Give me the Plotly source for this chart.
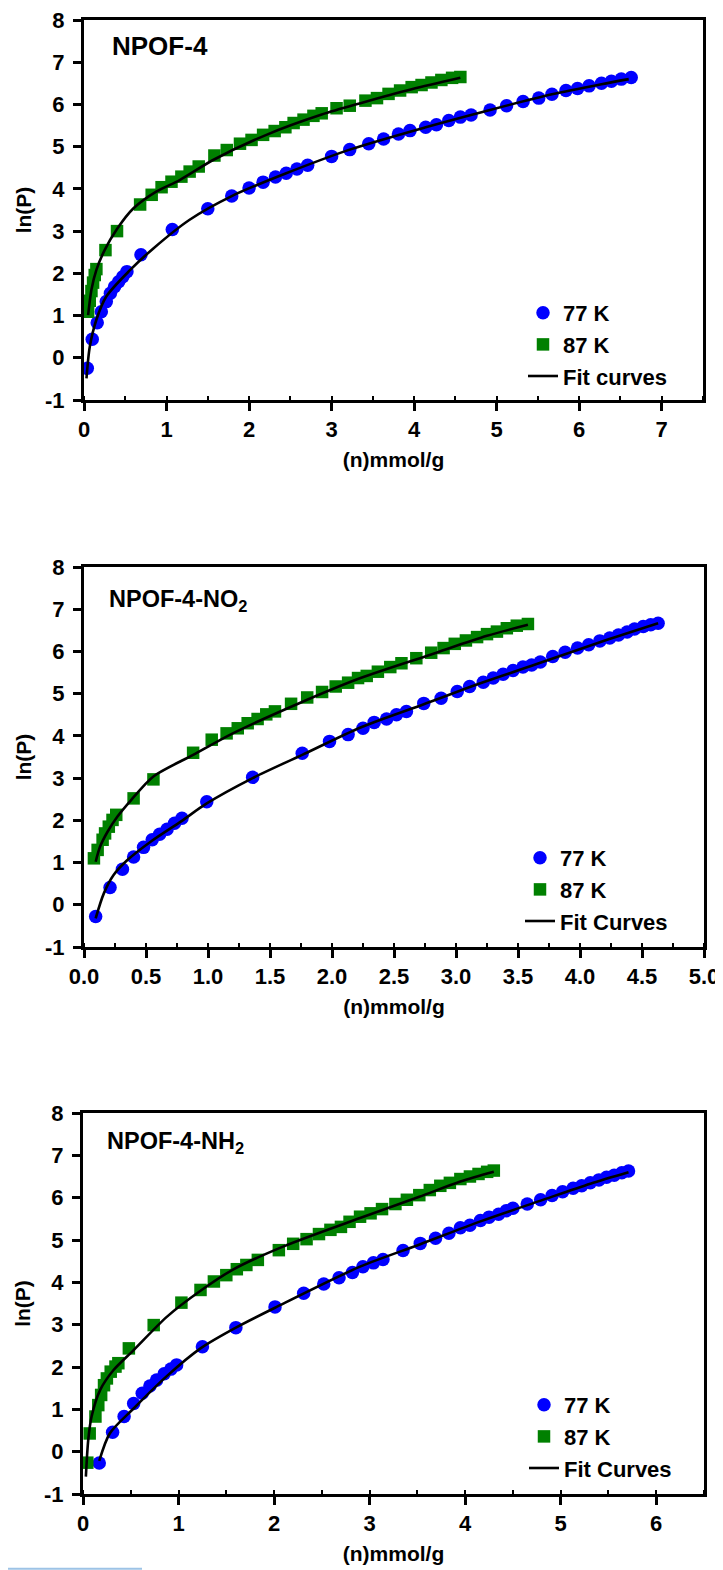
import plotly.graph_objects as go

# ---------------- data ----------------
# Panel 1: NPOF-4
n1_77 = [0.04, 0.10, 0.16, 0.21, 0.27, 0.32, 0.37, 0.42, 0.47, 0.52, 0.69, 1.07, 1.50, 1.79, 2.00, 2.17, 2.32, 2.45,
         2.58, 2.71, 3.00, 3.22, 3.45, 3.63, 3.81, 3.95, 4.14, 4.27, 4.42, 4.56, 4.69, 4.92, 5.12, 5.32, 5.51, 5.67,
         5.84, 5.98, 6.12, 6.27, 6.39, 6.51, 6.63]
p1_77 = [-0.25, 0.44, 0.83, 1.09, 1.33, 1.53, 1.68, 1.80, 1.92, 2.04, 2.44, 3.04, 3.53, 3.83, 4.02, 4.16, 4.28, 4.37,
         4.47, 4.56, 4.77, 4.93, 5.07, 5.18, 5.30, 5.38, 5.46, 5.52, 5.62, 5.70, 5.75, 5.87, 5.97, 6.07, 6.15, 6.24,
         6.33, 6.38, 6.44, 6.50, 6.55, 6.60, 6.64]
n1_87 = [0.05, 0.07, 0.09, 0.11, 0.13, 0.15, 0.26, 0.40, 0.68, 0.82, 0.94, 1.06, 1.18, 1.28, 1.39, 1.58, 1.73, 1.89,
         2.03, 2.17, 2.31, 2.44, 2.54, 2.66, 2.78, 2.88, 3.06, 3.22, 3.41, 3.55, 3.69, 3.83, 3.97, 4.09, 4.21, 4.33,
         4.46, 4.56]
p1_87 = [1.09, 1.35, 1.58, 1.78, 1.96, 2.10, 2.55, 3.00, 3.63, 3.86, 4.04, 4.17, 4.29, 4.41, 4.53, 4.79, 4.92, 5.07,
         5.16, 5.28, 5.37, 5.46, 5.56, 5.64, 5.73, 5.79, 5.91, 5.97, 6.09, 6.15, 6.25, 6.33, 6.41, 6.46, 6.52, 6.58,
         6.63, 6.65]
fit1_77_n = [0.03, 0.07, 0.15, 0.27, 0.56, 0.84, 1.28, 1.79, 2.45, 3.22, 4.14, 4.92, 5.67, 6.27, 6.60]
fit1_77_p = [-0.49, 0.26, 0.90, 1.45, 2.08, 2.59, 3.27, 3.83, 4.37, 4.93, 5.46, 5.87, 6.24, 6.48, 6.60]
fit1_87_n = [0.05, 0.09, 0.15, 0.25, 0.40, 0.60, 0.88, 1.16, 1.57, 2.21, 2.88, 3.35, 3.97, 4.56]
fit1_87_p = [1.01, 1.61, 2.08, 2.55, 3.05, 3.54, 3.94, 4.21, 4.69, 5.28, 5.76, 6.03, 6.36, 6.63]

# Panel 2: NPOF-4-NO2
n2_77 = [0.094, 0.21, 0.31, 0.40, 0.48, 0.55, 0.61, 0.67, 0.73, 0.79, 0.99, 1.36, 1.76, 1.98, 2.13, 2.25, 2.34, 2.44,
         2.52, 2.60, 2.74, 2.88, 3.01, 3.11, 3.22, 3.30, 3.38, 3.46, 3.54, 3.61, 3.68, 3.78, 3.88, 3.98, 4.07, 4.16,
         4.24, 4.31, 4.38, 4.44, 4.51, 4.57, 4.63]
p2_77 = [-0.28, 0.41, 0.84, 1.13, 1.36, 1.54, 1.67, 1.79, 1.93, 2.05, 2.44, 3.02, 3.59, 3.87, 4.03, 4.18, 4.32, 4.40,
         4.50, 4.58, 4.77, 4.89, 5.05, 5.17, 5.27, 5.37, 5.46, 5.55, 5.63, 5.68, 5.75, 5.88, 5.98, 6.08, 6.16, 6.25,
         6.32, 6.39, 6.46, 6.53, 6.59, 6.63, 6.67]
n2_87 = [0.08, 0.11, 0.15, 0.17, 0.20, 0.23, 0.26, 0.40, 0.56, 0.88, 1.03, 1.15, 1.24, 1.32, 1.40, 1.47, 1.54, 1.67,
         1.80, 1.92, 2.03, 2.13, 2.21, 2.28, 2.37, 2.47, 2.56, 2.68, 2.80, 2.90, 2.99, 3.08, 3.17, 3.25, 3.33, 3.41,
         3.49, 3.58]
p2_87 = [1.10, 1.30, 1.54, 1.69, 1.85, 2.01, 2.13, 2.52, 2.97, 3.60, 3.91, 4.06, 4.18, 4.30, 4.40, 4.51, 4.58, 4.76,
         4.91, 5.04, 5.17, 5.26, 5.37, 5.42, 5.52, 5.63, 5.72, 5.84, 5.97, 6.08, 6.18, 6.26, 6.34, 6.41, 6.47, 6.55,
         6.61, 6.65]
fit2_77_n = [0.094, 0.16, 0.24, 0.35, 0.54, 0.78, 0.99, 1.36, 1.76, 2.23, 2.74, 3.22, 3.68, 4.16, 4.63]
fit2_77_p = [-0.32, 0.27, 0.71, 1.06, 1.50, 1.97, 2.40, 3.00, 3.55, 4.20, 4.75, 5.27, 5.73, 6.22, 6.67]
fit2_87_n = [0.094, 0.13, 0.19, 0.27, 0.38, 0.56, 0.88, 1.20, 1.74, 2.23, 2.80, 3.25, 3.58]
fit2_87_p = [1.02, 1.38, 1.73, 2.09, 2.48, 3.04, 3.55, 4.06, 4.78, 5.37, 5.93, 6.37, 6.63]

# Panel 3: NPOF-4-NH2
n3_77 = [0.17, 0.31, 0.43, 0.53, 0.62, 0.70, 0.77, 0.85, 0.92, 0.98, 1.25, 1.60, 2.01, 2.31, 2.52, 2.68, 2.82, 2.93,
         3.04, 3.14, 3.35, 3.53, 3.69, 3.83, 3.95, 4.05, 4.16, 4.25, 4.35, 4.43, 4.50, 4.65, 4.79, 4.91, 5.02, 5.13,
         5.22, 5.31, 5.40, 5.48, 5.56, 5.64, 5.71]
p3_77 = [-0.27, 0.46, 0.83, 1.14, 1.38, 1.55, 1.69, 1.84, 1.95, 2.05, 2.48, 2.93, 3.42, 3.74, 3.96, 4.11, 4.23, 4.37,
         4.46, 4.54, 4.75, 4.92, 5.04, 5.16, 5.29, 5.35, 5.46, 5.54, 5.61, 5.69, 5.75, 5.85, 5.95, 6.05, 6.14, 6.22,
         6.28, 6.35, 6.42, 6.48, 6.53, 6.59, 6.63]
n3_87 = [0.045, 0.07, 0.13, 0.16, 0.19, 0.22, 0.25, 0.29, 0.34, 0.37, 0.48, 0.74, 1.03, 1.23, 1.37, 1.50, 1.61, 1.71,
         1.83, 2.05, 2.20, 2.34, 2.47, 2.59, 2.70, 2.79, 2.90, 3.01, 3.13, 3.27, 3.39, 3.52, 3.63, 3.74, 3.84, 3.95,
         4.05, 4.14, 4.23, 4.30]
p3_87 = [-0.26, 0.43, 0.83, 1.10, 1.34, 1.57, 1.73, 1.89, 2.01, 2.09, 2.44, 2.99, 3.52, 3.82, 4.02, 4.17, 4.31, 4.41,
         4.53, 4.76, 4.91, 5.02, 5.14, 5.24, 5.31, 5.43, 5.55, 5.63, 5.73, 5.85, 5.95, 6.06, 6.18, 6.28, 6.35, 6.44,
         6.50, 6.56, 6.61, 6.64]
fit3_77_n = [0.17, 0.28, 0.53, 0.88, 1.23, 1.60, 2.01, 2.90, 3.53, 4.16, 4.79, 5.31, 5.71]
fit3_77_p = [-0.22, 0.43, 1.02, 1.79, 2.44, 2.93, 3.40, 4.37, 4.90, 5.44, 5.93, 6.33, 6.60]
fit3_87_n = [0.03, 0.055, 0.09, 0.18, 0.32, 0.53, 0.88, 1.23, 1.57, 2.10, 2.90, 3.52, 3.95, 4.30]
fit3_87_p = [-0.59, 0.28, 0.83, 1.46, 1.93, 2.40, 3.19, 3.80, 4.30, 4.85, 5.52, 6.02, 6.38, 6.61]

titles = ["NPOF-4", "NPOF-4-NO<sub>2</sub>", "NPOF-4-NH<sub>2</sub>"]
title_sizes = [26, 23.5, 23.5]
fit_names = ["Fit curves", "Fit Curves", "Fit Curves"]
x_ranges = [[0, 7.5], [0, 5.0], [0, 6.5]]
x_dticks = [1, 0.5, 1]
x_formats = ["d", ".1f", "d"]
y_range = [-1, 8]
y_tickvals = [-1, 0, 1, 2, 3, 4, 5, 6, 7, 8]
y_ticktext = ["-1", "0", "1", "2", "3", "4", "5", "6", "7", "8"]

panels = [
    (n1_77, p1_77, n1_87, p1_87, fit1_77_n, fit1_77_p, fit1_87_n, fit1_87_p),
    (n2_77, p2_77, n2_87, p2_87, fit2_77_n, fit2_77_p, fit2_87_n, fit2_87_p),
    (n3_77, p3_77, n3_87, p3_87, fit3_77_n, fit3_77_p, fit3_87_n, fit3_87_p),
]

# ---------------- layout geometry (page pixels) ----------------
OFF = 8                      # default page body margin
W, H = 723 - OFF, 1570 - OFF  # figure size that fits the window


def px_x(v):
    return (v - OFF) / W


def px_y(v):
    return 1 - (v - OFF) / H


plot_px = [  # (left, right, top, bottom) in page pixels
    (84, 703, 20, 400),
    (84, 704, 567, 947),
    (83, 704, 1113, 1494),
]
legend_px = [(523, 292), (520, 837), (524, 1384)]
label_px = [(110, 46), (107, 600), (105, 1142)]

FONT = "Liberation Sans, Arial, sans-serif"
BLUE = "#0000FF"
GREEN = "#008000"

fig = go.Figure()
layout = dict(
    width=W, height=H,
    margin=dict(l=0, r=0, t=0, b=0, autoexpand=False),
    paper_bgcolor="white", plot_bgcolor="white",
    font=dict(family=FONT, color="black", size=22, weight="bold"),
    annotations=[], shapes=[],
)

for i, (a77, b77, a87, b87, f77x, f77y, f87x, f87y) in enumerate(panels):
    k = "" if i == 0 else str(i + 1)
    xa, ya = "x" + k, "y" + k
    lg = "legend" + k
    fig.add_trace(go.Scatter(x=a77, y=b77, mode="markers", name="77 K", xaxis=xa, yaxis=ya, legend=lg,
                             marker=dict(symbol="circle", size=13.5, color=BLUE, line=dict(width=0))))
    fig.add_trace(go.Scatter(x=a87, y=b87, mode="markers", name="87 K", xaxis=xa, yaxis=ya, legend=lg,
                             marker=dict(symbol="square", size=12.5, color=GREEN, line=dict(width=0))))
    fig.add_trace(go.Scatter(x=f77x, y=f77y, mode="lines", name=fit_names[i], xaxis=xa, yaxis=ya, legend=lg,
                             line=dict(color="black", width=2.6, shape="spline", smoothing=0.8)))
    fig.add_trace(go.Scatter(x=f87x, y=f87y, mode="lines", name=fit_names[i], xaxis=xa, yaxis=ya, legend=lg,
                             showlegend=False,
                             line=dict(color="black", width=2.6, shape="spline", smoothing=0.8)))

    l, r, t, b = plot_px[i]
    xdom = [px_x(l), px_x(r)]
    ydom = [px_y(b), px_y(t)]
    layout["xaxis" + k] = dict(
        domain=xdom, anchor=ya, range=x_ranges[i], dtick=x_dticks[i], tick0=0, tickformat=x_formats[i],
        automargin=False, ticklabeloverflow="allow",
        showline=True, linecolor="black", linewidth=3, mirror=True,
        ticks="outside", ticklen=8, tickwidth=3, tickcolor="black",
        minor=dict(ticks="inside", ticklen=4, tickwidth=1.5, tickcolor="black", dtick=x_dticks[i] / 2),
        showgrid=False, zeroline=False,
        tickfont=dict(family=FONT, size=22, color="black", weight="bold"),
        title=dict(text="(n)mmol/g", standoff=11,
                   font=dict(family=FONT, size=21, color="black", weight="bold")),
    )
    layout["yaxis" + k] = dict(
        domain=ydom, anchor=xa, range=y_range, tickvals=y_tickvals, ticktext=y_ticktext,
        automargin=False, ticklabeloverflow="allow",
        showline=True, linecolor="black", linewidth=3, mirror=True,
        ticks="outside", ticklen=8, tickwidth=3, tickcolor="black",
        showgrid=False, zeroline=False,
        tickfont=dict(family=FONT, size=22, color="black", weight="bold"),
        ticklabelstandoff=4,
        title=dict(text="ln(P)", standoff=8,
                   font=dict(family=FONT, size=21, color="black", weight="bold")),
    )
    lx, ly = legend_px[i]
    layout[lg] = dict(
        x=px_x(lx), y=px_y(ly), xanchor="left", yanchor="top",
        bgcolor="rgba(0,0,0,0)", borderwidth=0,
        font=dict(family=FONT, size=22, color="black", weight="bold"),
        itemsizing="trace", tracegroupgap=0,
    )
    ax, ay = label_px[i]
    layout["annotations"].append(dict(
        text=titles[i], x=px_x(ax), y=px_y(ay), xref="paper", yref="paper",
        xanchor="left", yanchor="middle", showarrow=False,
        font=dict(family=FONT, size=title_sizes[i], color="black", weight="bold"),
    ))

# thin light-blue rule at bottom-left of the page (as in the source image)
layout["shapes"].append(dict(type="line", xref="paper", yref="paper",
                             x0=0, x1=px_x(142), y0=0.0008, y1=0.0008,
                             line=dict(color="#9dc3e6", width=2)))

fig.update_layout(**layout)
fig.write_html("out.html")
